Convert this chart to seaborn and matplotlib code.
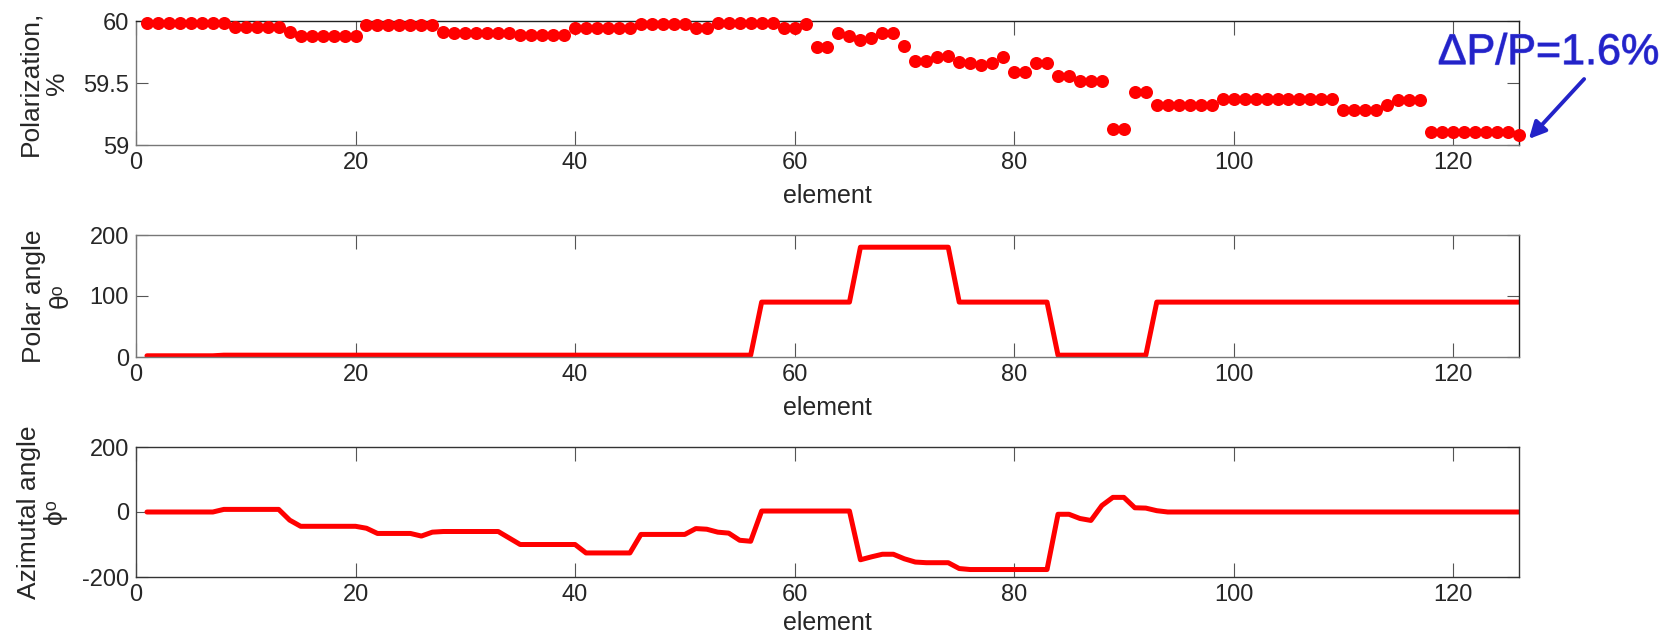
import numpy as np
import pandas as pd
import matplotlib
matplotlib.use("Agg")
import matplotlib.pyplot as plt
import matplotlib.patheffects as pe
import seaborn as sns


# element index along the chain
ELEMENTS = list( range( 1, 127 ) )

# polarization, %
POLARIZATION = [
    59.985, 59.985, 59.985, 59.985, 59.985, 59.985, 59.985, 59.985,
    59.95, 59.95, 59.95, 59.95, 59.95, 59.91,
    59.88, 59.88, 59.88, 59.88, 59.88, 59.88,
    59.965, 59.965, 59.965, 59.965, 59.965, 59.965, 59.965, 59.91,
    59.90, 59.90, 59.90, 59.90, 59.90, 59.90,
    59.885, 59.885, 59.885, 59.885, 59.885,
    59.945, 59.945, 59.945, 59.945, 59.945, 59.945,
    59.975, 59.975, 59.975, 59.975, 59.975,
    59.94, 59.94,
    59.98, 59.98, 59.98, 59.98, 59.98, 59.98,
    59.945, 59.945, 59.975,
    59.79, 59.79,
    59.90, 59.88, 59.85, 59.86, 59.90, 59.90, 59.80,
    59.68, 59.68, 59.71, 59.72, 59.67, 59.66, 59.645, 59.66, 59.71,
    59.59, 59.59, 59.66, 59.66, 59.56, 59.555, 59.52, 59.52, 59.52,
    59.13, 59.13,
    59.43, 59.43,
    59.325, 59.325, 59.325, 59.325, 59.325, 59.325,
    59.375, 59.375, 59.375, 59.375, 59.375, 59.375,
    59.375, 59.375, 59.375, 59.375, 59.375,
    59.28, 59.28, 59.28, 59.28,
    59.32, 59.36, 59.36, 59.36,
    59.105, 59.105, 59.105, 59.105, 59.105, 59.105, 59.105, 59.105,
    59.08,
]

# polar angle theta, degrees
POLAR_ANGLE = (
    [2, 2, 2, 2, 2, 2, 2]
    + [3] * 49
    + [90, 90, 90, 90, 90, 90, 90, 90, 90]
    + [180, 180, 180, 180, 180, 180, 180, 180, 180]
    + [90, 90, 90, 90, 90, 90, 90, 90, 90]
    + [3, 3, 3, 3, 3, 3, 3, 3, 3]
    + [90] * 34
)

# azimutal angle phi, degrees
AZIMUTAL_ANGLE = [
    0, 0, 0, 0, 0, 0, 0,
    8, 8, 8, 8, 8, 8,
    -25, -44, -44, -44, -44, -44, -44,
    -50, -66, -66, -66, -66, -74, -62,
    -60, -60, -60, -60, -60, -60,
    -80, -100, -100, -100, -100, -100, -100,
    -126, -126, -126, -126, -126,
    -69, -69, -69, -69, -69,
    -51, -53, -62, -65, -87, -90,
    3, 3, 3, 3, 3, 3, 3, 3, 3,
    -147, -138, -130, -130, -144, -154, -156, -156, -156, -174,
    -177, -177, -177, -177, -177, -177, -177, -177,
    -7, -7, -20, -26, 20, 45, 45, 13, 12, 4,
] + [0] * 33

X_TICKS = [0, 20, 40, 60, 80, 100, 120]

PANELS = [
    {
        "ylabel": "Polarization,\n%",
        "yticks": [59, 59.5, 60],
        "yticklabels": ["59", "59.5", "60"],
        "ylim": (59, 60),
    },
    {
        "ylabel": "Polar angle\n\u03b8\u1d52",
        "yticks": [0, 100, 200],
        "yticklabels": ["0", "100", "200"],
        "ylim": (0, 200),
    },
    {
        "ylabel": "Azimutal angle\n\u03d5\u1d52",
        "yticks": [-200, 0, 200],
        "yticklabels": ["-200", "0", "200"],
        "ylim": (-200, 200),
    },
]

W, H = 1681, 640
BLUE = "#2323c8"


def px_axes(left, top, right, bottom):
    # pixel box -> figure fraction rect
    return [ left / W, 1 - bottom / H, (right - left) / W, (bottom - top) / H ]


def style_axis(ax, panel, spine_colors, xlabel_y, ylabel_x):

    ax.set_xlim( 0, 126 )
    ax.set_ylim( *panel["ylim"] )

    ax.set_xticks( X_TICKS )
    ax.set_xticklabels( [str(t) for t in X_TICKS] )
    ax.set_yticks( panel["yticks"] )
    ax.set_yticklabels( panel["yticklabels"] )

    ax.tick_params(
        axis="x", direction="in", top=True, bottom=True,
        length=10, width=0.8, color="#555555", labelsize=17, pad=5
    )
    ax.tick_params(
        axis="y", direction="in", left=True, right=True,
        length=8.5, width=0.8, color="#555555", labelsize=17, pad=5
    )

    for side, c in spine_colors.items():
        ax.spines[side].set_visible( True )
        ax.spines[side].set_color( c )
        ax.spines[side].set_linewidth( 1.0 )

    ax.set_xlabel( "element", fontsize=18, va="center" )
    ax.xaxis.set_label_coords( 0.5, xlabel_y )

    ax.set_ylabel(
        panel["ylabel"], fontsize=19, va="center", ha="center",
        linespacing=1.15
    )
    ax.yaxis.set_label_coords( ylabel_x, 0.5 )

    ax.grid( False )



def main():

    sns.set_style( "white" )
    plt.rcParams["font.family"] = ["Liberation Sans", "DejaVu Sans"]

    df = pd.DataFrame( {
        "element": ELEMENTS,
        "polarization": POLARIZATION,
        "theta": POLAR_ANGLE,
        "phi": AZIMUTAL_ANGLE,
    } )

    fig = plt.figure( figsize=(W / 100, H / 100), dpi=100 )

    ax1 = fig.add_axes( px_axes( 136, 21, 1519, 145 ) )
    ax2 = fig.add_axes( px_axes( 136, 235, 1519, 357 ) )
    ax3 = fig.add_axes( px_axes( 136, 447, 1519, 577 ) )


    # -----------------------
    # Polarization
    # -----------------------

    sns.scatterplot(
        data=df, x="element", y="polarization", ax=ax1,
        color="#ff0000", s=88, linewidth=0, clip_on=False, zorder=3
    )

    style_axis(
        ax1, PANELS[0],
        {"top": "#222222", "right": "#222222", "left": "#777777", "bottom": "#777777"},
        xlabel_y=-0.41, ylabel_x=-0.067
    )

    ax1.text(
        0.921, 0.917, "\u0394P/P=1.6%", transform=fig.transFigure,
        fontsize=31, color=BLUE, ha="center", va="center",
        path_effects=[pe.withStroke( linewidth=0.8, foreground="#5a5ae0" )]
    )

    ax1.annotate(
        "",
        xy=(1527 / W, 1 - 141 / H), xycoords="figure fraction",
        xytext=(1586 / W, 1 - 77 / H), textcoords="figure fraction",
        arrowprops=dict(
            arrowstyle="-|>,head_length=1.0,head_width=0.5",
            color=BLUE, lw=2.8
        ),
        annotation_clip=False
    )


    # -----------------------
    # Polar angle
    # -----------------------

    sns.lineplot(
        data=df, x="element", y="theta", ax=ax2,
        color="#ff0000", linewidth=3.6
    )

    style_axis(
        ax2, PANELS[1],
        {"top": "#777777", "right": "#222222", "left": "#777777", "bottom": "#777777"},
        xlabel_y=-0.42, ylabel_x=-0.064
    )


    # -----------------------
    # Azimutal angle
    # -----------------------

    sns.lineplot(
        data=df, x="element", y="phi", ax=ax3,
        color="#ff0000", linewidth=3.6
    )

    style_axis(
        ax3, PANELS[2],
        {"top": "#333333", "right": "#333333", "left": "#444444", "bottom": "#333333"},
        xlabel_y=-0.35, ylabel_x=-0.068
    )

    fig.savefig( "out.png", dpi=100 )

    plt.close( fig )



if __name__ == "__main__":
    main()
